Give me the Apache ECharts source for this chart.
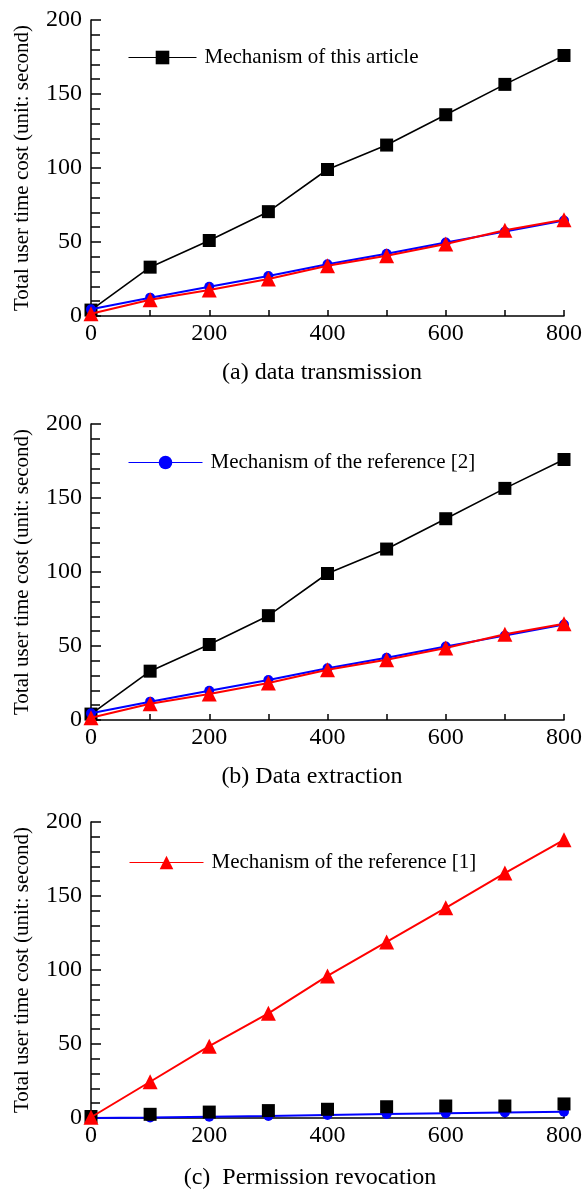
<!DOCTYPE html>
<html><head><meta charset="utf-8">
<script src="https://cdn.jsdelivr.net/npm/echarts@6/dist/echarts.min.js"></script>
<style>html,body{margin:0;padding:0;background:#fff;}#c{width:585px;height:1194px;}</style>
</head><body><div id="c"></div>
<script>
var xValues = [0, 100, 200, 300, 400, 500, 600, 700, 800];
var yTicks = [0, 50, 100, 150, 200];
var xTicks = [0, 200, 400, 600, 800];

var nameThis = 'Mechanism of this article';
var nameRef2 = 'Mechanism of the reference [2]';
var nameRef1 = 'Mechanism of the reference [1]';

var titles = ['(a) data transmission', '(b) Data extraction', '(c)  Permission revocation'];
var yName = 'Total user time cost (unit: second)';

// (a) data transmission
var aThis = [4, 33, 51, 70.5, 99, 115.5, 136, 156.5, 176];
var aRef2 = [4.5, 12.4, 19.7, 27, 35, 42, 49.7, 57, 64.5];
var aRef1 = [1.5, 11, 17.5, 25, 34, 40.7, 48.6, 58, 65];
// (b) Data extraction
var bThis = [4, 33, 51, 70.5, 99, 115.5, 136, 156.5, 176];
var bRef2 = [4.5, 12.4, 19.7, 27, 35, 42, 49.7, 57, 64.5];
var bRef1 = [1.5, 11, 17.5, 25, 34, 40.7, 48.6, 58, 65];
// (c) Permission revocation
var cThis = [1, 2.5, 4, 5, 5.9, 7.6, 8.1, 8.1, 9.5];
var cRef2 = [0, 0.3, 0.8, 1.3, 2, 2.7, 3.2, 3.7, 4.3];
var cRef1 = [0.5, 24.5, 48.5, 70.7, 96, 119, 142, 165.5, 188];

var FONT = 'Liberation Serif';
var gridTops = [20, 424, 822];
var gridH = 296;

function pairs(arr) { return xValues.map(function (x, i) { return [x, arr[i]]; }); }

var grids = [], xAxes = [], yAxes = [], series = [], legends = [], graphics = [];
var panels = [[aThis, aRef2, aRef1], [bThis, bRef2, bRef1], [cThis, cRef2, cRef1]];
var legendNames = [nameThis, nameRef2, nameRef1];
var legendLeft = [128, 128, 129];
var legendTop = [47, 452, 852];
var legendItemW = [68, 74, 74];

panels.forEach(function (p, k) {
  grids.push({ left: 91, width: 474, top: gridTops[k], height: gridH });
  xAxes.push({
    type: 'value', gridIndex: k, min: xTicks[0], max: xTicks[xTicks.length - 1], interval: 200,
    axisLine: { lineStyle: { color: '#000', width: 1.5 } },
    axisTick: { show: true, inside: true, length: 6, lineStyle: { color: '#000', width: 1.5 } },
    minorTick: { show: true, splitNumber: 2, length: 6, lineStyle: { color: '#000', width: 1.5 } },
    axisLabel: { color: '#000', fontFamily: FONT, fontSize: 24, margin: 6 },
    splitLine: { show: false }
  });
  yAxes.push({
    type: 'value', gridIndex: k, min: yTicks[0], max: yTicks[yTicks.length - 1], interval: 50,
    name: yName, nameLocation: 'middle', nameGap: 58,
    nameTextStyle: { color: '#000', fontFamily: FONT, fontSize: 21 },
    axisLine: { show: true, lineStyle: { color: '#000', width: 1.5 } },
    axisTick: { show: true, inside: true, length: 10, lineStyle: { color: '#000', width: 1.5 } },
    minorTick: { show: true, splitNumber: 5, length: 9, lineStyle: { color: '#000', width: 1.5 } },
    axisLabel: { color: '#000', fontFamily: FONT, fontSize: 24, margin: 9 },
    splitLine: { show: false }
  });
  var blackS = {
    name: nameThis, type: 'line', xAxisIndex: k, yAxisIndex: k, data: pairs(p[0]),
    symbol: 'rect', symbolSize: 13, itemStyle: { color: '#000' },
    lineStyle: { color: '#000', width: k === 2 ? 0 : 1.6, opacity: k === 2 ? 0 : 1 }, z: 2
  };
  var blueS = {
    name: nameRef2, type: 'line', xAxisIndex: k, yAxisIndex: k, data: pairs(p[1]),
    symbol: 'circle', symbolSize: 10, itemStyle: { color: '#0000ff' },
    lineStyle: { color: '#0000ff', width: 2 }, z: k === 2 ? 1 : 3
  };
  var redS = {
    name: nameRef1, type: 'line', xAxisIndex: k, yAxisIndex: k, data: pairs(p[2]),
    symbol: 'triangle', symbolSize: 15, itemStyle: { color: '#ff0000' },
    lineStyle: { color: '#ff0000', width: 2 }, z: 4
  };
  series.push(blackS, blueS, redS);
  legends.push({
    data: [legendNames[k]], left: legendLeft[k], top: legendTop[k], padding: 0,
    itemWidth: legendItemW[k], itemHeight: 17, itemGap: 0, selectedMode: false,
    lineStyle: { width: 1 },
    textStyle: { color: '#000', fontFamily: FONT, fontSize: 21, padding: [0, 0, 0, 3] }
  });
});

var titleY = [373, 777, 1178];
var titleX = [322, 312, 310];
titles.forEach(function (t, k) {
  graphics.push({
    type: 'text', x: titleX[k], y: titleY[k],
    style: { text: t, fill: '#000', font: '24px "' + FONT + '"', textAlign: 'center', textVerticalAlign: 'middle' }
  });
});

var chart = echarts.init(document.getElementById('c'), null, { renderer: 'canvas' });
chart.setOption({
  animation: false,
  backgroundColor: '#fff',
  grid: grids, xAxis: xAxes, yAxis: yAxes, series: series, legend: legends, graphic: graphics
});
</script></body></html>
